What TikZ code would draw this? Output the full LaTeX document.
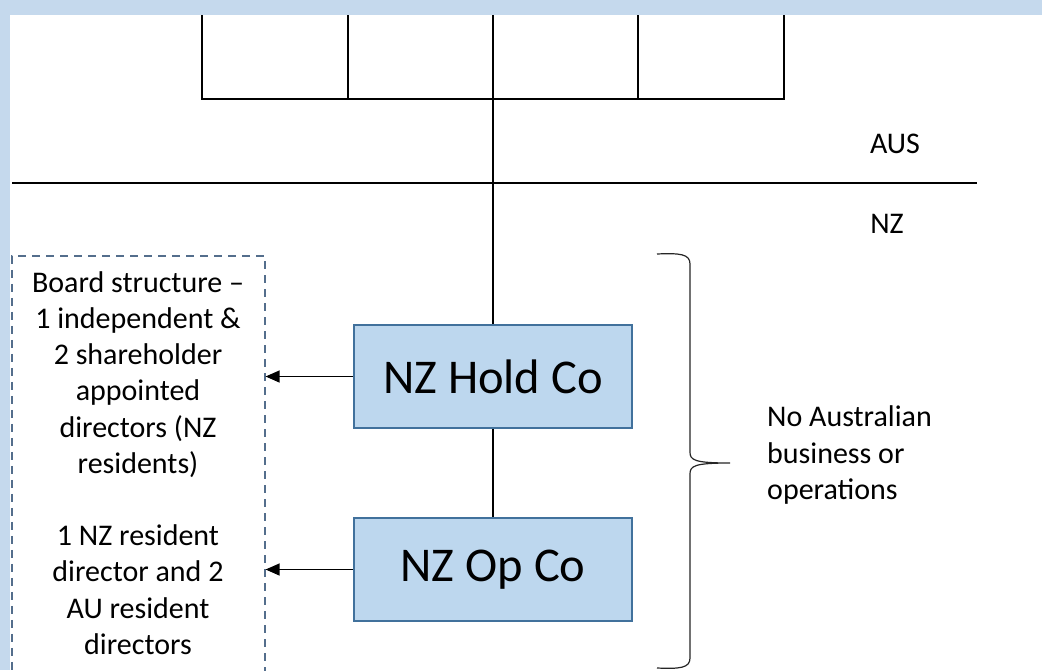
\documentclass[tikz,border=0pt]{standalone}
\usepackage{fontspec}
\setmainfont{Carlito}
\usetikzlibrary{arrows.meta}
\definecolor{bgblue}{RGB}{197,217,237}
\definecolor{boxfill}{RGB}{189,215,238}
\definecolor{boxline}{RGB}{65,113,156}
\definecolor{dashcol}{RGB}{84,110,140}
\tikzset{
  company/.style={draw=boxline, line width=1.6pt, fill=boxfill, minimum width=278pt, minimum height=103pt, inner sep=0pt, font=\fontsize{48.5}{58}\selectfont},
  link/.style={line width=1.3pt, black},
  arr/.style={link, -{Triangle[length=14pt,width=12pt]}},
  note/.style={inner sep=0pt, font=\fontsize{30}{36.2}\selectfont},
}
\begin{document}
\begin{tikzpicture}[x=1pt,y=-1pt]
\useasboundingbox (0,0) rectangle (1042,670);
\fill[bgblue] (0,0) rectangle (1042,670);
\fill[white] (10,15) rectangle (1042,670);
\clip (0,0) rectangle (1042,670);
% top structure (boxes cut by the top edge)
\draw[link] (202,15) -- (202,99) -- (784,99) -- (784,15);
\draw[link] (348,15) -- (348,99);
\draw[link] (493,15) -- (493,99);
\draw[link] (638,15) -- (638,99);
\coordinate (top) at (493,99);
% AUS / NZ border
\draw[link] (12,183) -- (977,183);
\node[note, anchor=base] (aus) at (895,153) {AUS};
\node[note, anchor=base] (nz) at (887,233) {NZ};
% companies
\node[company] (holdco) at (493,376.5) {NZ Hold Co};
\node[company] (opco) at (493,569.5) {NZ Op Co};
\draw[link] (top) -- (holdco.north);
\draw[link] (holdco.south) -- (opco.north);
% board box
\node[draw=dashcol, line width=1.6pt, dash pattern=on 8pt off 6pt, minimum width=253pt, minimum height=460pt, anchor=north west, inner sep=0pt] (board) at (11,255) {};
\node[note, align=center] (boardtext) at (138,463) {Board structure –\\1 independent \&\\2 shareholder\\appointed\\directors (NZ\\residents)\\\mbox{}\\1 NZ resident\\director and 2\\AU resident\\directors};
\draw[arr] (holdco.west) -- (board.east |- holdco.west);
\draw[arr] (opco.west) -- (board.east |- opco.west);
% brace
\draw[line width=1.2pt, black!85] (657,254) .. controls (680,253) and (690,254) .. (690,264) -- (690,452)
  .. controls (690,460) and (694,463) .. (730,463)
  .. controls (694,463) and (690,466) .. (690,474) -- (690,658)
  .. controls (690,668) and (680,669) .. (657,668);
\node[note, align=left, anchor=west] (nobiz) at (767,455) {No Australian\\business or\\operations};
\end{tikzpicture}
\end{document}
